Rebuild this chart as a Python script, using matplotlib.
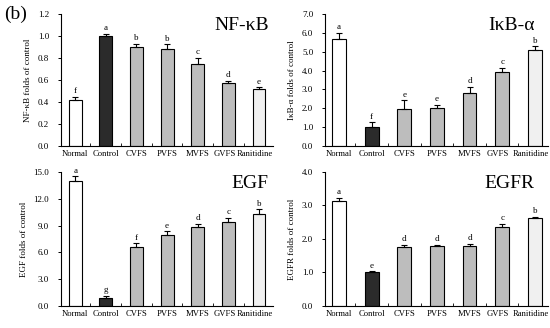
import matplotlib
matplotlib.use("Agg")
import matplotlib.pyplot as plt
import matplotlib.transforms as mtransforms
import numpy as np

plt.rcParams['font.family'] = ['Liberation Serif', 'DejaVu Serif']

categories = ["Normal", "Control", "CVFS", "PVFS", "MVFS", "GVFS", "Ranitidine"]

nfkb_vals = [0.42, 1.00, 0.90, 0.88, 0.75, 0.575, 0.515]
nfkb_err = [0.03, 0.02, 0.03, 0.045, 0.05, 0.02, 0.02]
nfkb_letters = ["f", "a", "b", "b", "c", "d", "e"]

ikba_vals = [5.7, 1.0, 1.97, 2.0, 2.8, 3.93, 5.12]
ikba_err = [0.3, 0.25, 0.45, 0.18, 0.33, 0.22, 0.18]
ikba_letters = ["a", "f", "e", "e", "d", "c", "b"]

egf_vals = [14.0, 0.95, 6.65, 7.9, 8.85, 9.45, 10.25]
egf_err = [0.5, 0.2, 0.35, 0.45, 0.35, 0.4, 0.55]
egf_letters = ["a", "g", "f", "e", "d", "c", "b"]

egfr_vals = [3.12, 1.0, 1.77, 1.79, 1.79, 2.37, 2.61]
egfr_err = [0.1, 0.04, 0.06, 0.03, 0.07, 0.08, 0.05]
egfr_letters = ["a", "e", "d", "d", "d", "c", "b"]

bar_colors = ["#ffffff", "#2b2b2b", "#bdbdbd", "#bdbdbd", "#bdbdbd", "#bdbdbd", "#f0f0f0"]

fig = plt.figure(figsize=(5.5, 3.28), dpi=100)

panels = [
    ([0.111, 0.555, 0.385, 0.402], nfkb_vals, nfkb_err, nfkb_letters, 1.2, 0.2, "NF-\u03baB", "NF-\u03baB folds of control", (-0.46, 6.45), 0.98),
    ([0.591, 0.555, 0.405, 0.402], ikba_vals, ikba_err, ikba_letters, 7.0, 1.0, "I\u03baB-\u03b1", "I\u03baB-\u03b1 folds of control", (-0.43, 6.4), 0.94),
    ([0.111, 0.067, 0.385, 0.409], egf_vals, egf_err, egf_letters, 15.0, 3.0, "EGF", "EGF folds of control", (-0.46, 6.45), 0.98),
    ([0.591, 0.067, 0.405, 0.409], egfr_vals, egfr_err, egfr_letters, 4.0, 1.0, "EGFR", "EGFR folds of control", (-0.43, 6.4), 0.94),
]

label_shift_px = [0, 0, 0, 0, 0, -4, -4]

for rect, vals, errs, letters, ymax, ystep, title, ylabel, xlim, tx in panels:
    ax = fig.add_axes(rect)
    x = np.arange(len(categories))
    ax.bar(x, vals, width=0.42, color=bar_colors, edgecolor="black", linewidth=0.8, zorder=2)
    ax.errorbar(x, vals, yerr=[np.zeros(len(vals)), errs], fmt="none", ecolor="black",
                elinewidth=0.8, capsize=2, capthick=0.8, zorder=3)
    for xi, v, e, l in zip(x, vals, errs, letters):
        ax.text(xi, v + e + ymax * 0.012, l, ha="center", va="bottom", fontsize=6.5)
    ax.set_ylim(0, ymax)
    ax.set_xlim(*xlim)
    yt = np.arange(0, ymax + 1e-9, ystep)
    ax.set_yticks(yt)
    ax.set_yticklabels([f"{t:.1f}" for t in yt], fontsize=6.5)
    ax.set_xticks(x)
    ax.set_xticklabels(categories, fontsize=6.2)
    ax.set_xticks(np.arange(0.5, 6.0, 1.0), minor=True)
    ax.tick_params(axis="x", which="major", length=0, pad=3)
    ax.tick_params(axis="x", which="minor", direction="in", length=2, width=0.6)
    ax.tick_params(axis="y", direction="out", length=2.5, width=0.7, pad=6)
    ax.set_ylabel(ylabel, fontsize=6.5, labelpad=4)
    for lbl, dx in zip(ax.get_xticklabels(), label_shift_px):
        if dx:
            lbl.set_transform(lbl.get_transform() + mtransforms.ScaledTranslation(dx / 100, 0, fig.dpi_scale_trans))
    for s in ["top", "right"]:
        ax.spines[s].set_visible(False)
    ax.spines["left"].set_linewidth(0.8)
    ax.spines["bottom"].set_linewidth(0.8)
    ax.text(tx, 0.91, title, transform=ax.transAxes, ha="right", va="center", fontsize=14)

fig.text(0.008, 0.955, "(b)", fontsize=14, ha="left", va="center")

fig.savefig("out.png", dpi=100)
